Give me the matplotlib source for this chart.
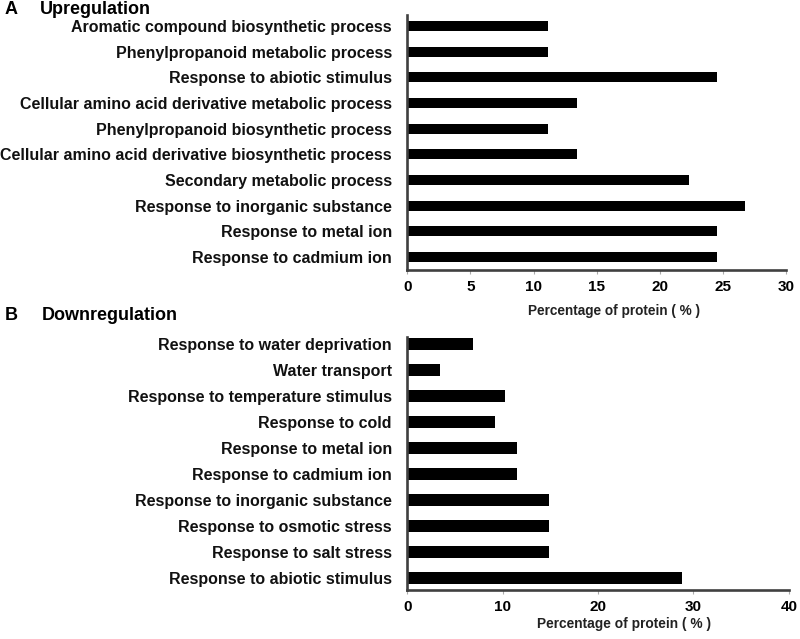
import matplotlib
matplotlib.use("Agg")
import matplotlib.pyplot as plt

plt.rcParams["font.family"] = ["Liberation Sans", "DejaVu Sans"]
plt.rcParams["font.weight"] = "bold"

# A: upregulation (top to bottom)
up_terms = ["Aromatic compound biosynthetic process",
            "Phenylpropanoid metabolic process",
            "Response to abiotic stimulus",
            "Cellular amino acid derivative metabolic process",
            "Phenylpropanoid biosynthetic process",
            "Cellular amino acid derivative biosynthetic process",
            "Secondary metabolic process",
            "Response to inorganic substance",
            "Response to metal ion",
            "Response to cadmium ion"]
up_pct = [11.1, 11.1, 24.5, 13.4, 11.1, 13.4, 22.3, 26.7, 24.5, 24.5]

# B: downregulation (top to bottom)
down_terms = ["Response to water deprivation",
              "Water transport",
              "Response to temperature stimulus",
              "Response to cold",
              "Response to metal ion",
              "Response to cadmium ion",
              "Response to inorganic substance",
              "Response to osmotic stress",
              "Response to salt stress",
              "Response to abiotic stimulus"]
down_pct = [6.9, 3.4, 10.3, 9.2, 11.5, 11.5, 14.9, 14.9, 14.9, 28.8]

XLABEL = "Percentage of protein ( % )"
GRIS = "#404040"

fig = plt.figure(figsize=(8, 6.39), dpi=100)
axA = fig.add_axes([0.509, 0.5775, 0.474, 0.399])
axB = fig.add_axes([0.509, 0.0767, 0.477, 0.3964])


def panel(ax, terms, vals, xmax, step, alto, ylim):
    n = len(terms)
    pos = list(range(n))[::-1]
    ax.barh(pos, vals, height=alto, color="black")
    ax.set_yticks(pos)
    ax.set_yticklabels(terms, fontsize=11.5, fontweight="bold", color="#111111")
    ax.set_xlim(0, xmax)
    ax.set_ylim(*ylim)
    ax.set_xticks(range(0, xmax + 1, step))
    ax.tick_params(axis="x", labelsize=11, length=3, width=0.8,
                   color="#aaaaaa", pad=4)
    ax.tick_params(axis="y", length=0, pad=11)
    for s in ["top", "right"]:
        ax.spines[s].set_visible(False)
    for s in ["left", "bottom"]:
        ax.spines[s].set_linewidth(1.9)
        ax.spines[s].set_color(GRIS)
    for lab in ax.get_xticklabels():
        lab.set_fontweight("bold")


panel(axA, up_terms, up_pct, 30, 5, 0.39, (-0.5, 9.42))
panel(axB, down_terms, down_pct, 40, 10, 0.47, (-0.47, 9.28))

axA.set_xlabel(XLABEL, fontsize=9.8, fontweight="bold", color="#222222")
axA.xaxis.set_label_coords(0.545, -0.135)
axB.set_xlabel(XLABEL, fontsize=9.9, fontweight="bold", color="#222222")
axB.xaxis.set_label_coords(0.568, -0.105)

fig.text(0.006, 0.985, "A", fontsize=13, fontweight="bold", va="center")
fig.text(0.05, 0.985, "Upregulation", fontsize=13, fontweight="bold", va="center")
fig.text(0.006, 0.507, "B", fontsize=13, fontweight="bold", va="center")
fig.text(0.052, 0.507, "Downregulation", fontsize=13, fontweight="bold", va="center")

fig.savefig("out.png", dpi=100)
